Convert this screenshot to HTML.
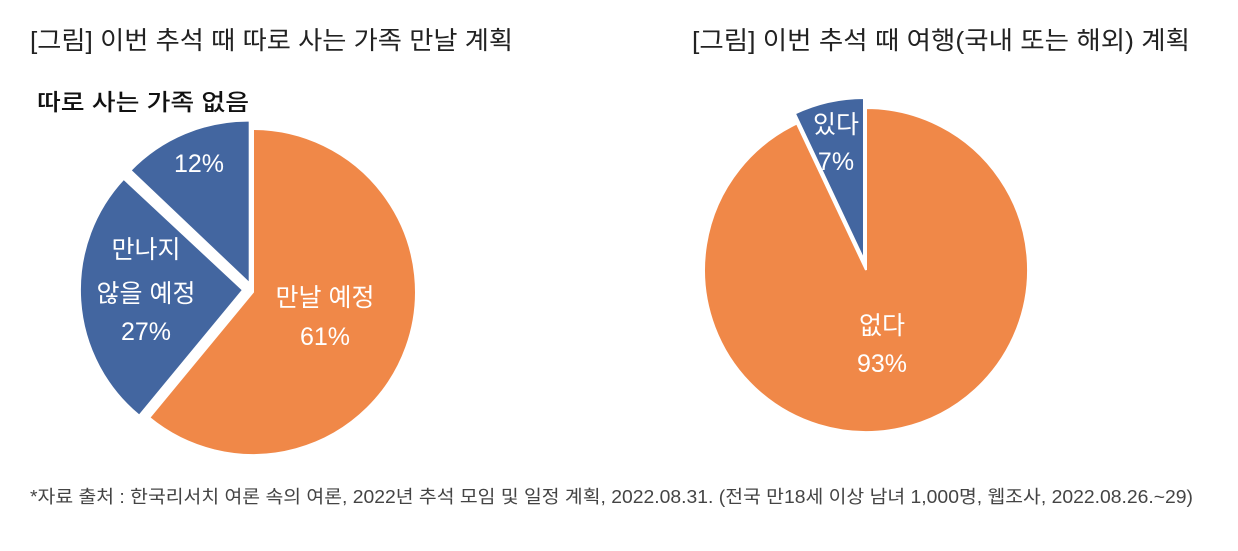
<!DOCTYPE html>
<html><head><meta charset="utf-8"><style>
body{margin:0;background:#fff;width:1238px;height:546px;overflow:hidden;font-family:"Liberation Sans","Noto Sans CJK KR",sans-serif;}
</style></head><body>
<svg width="1238" height="546" xmlns="http://www.w3.org/2000/svg" style="font-family:'Liberation Sans','Noto Sans CJK KR',sans-serif">
<text x="30" y="49" font-size="25" fill="#222" textLength="483" lengthAdjust="spacingAndGlyphs">[그림] 이번 추석 때 따로 사는 가족 만날 계획</text>
<text x="692" y="49" font-size="25" fill="#222" textLength="498" lengthAdjust="spacingAndGlyphs">[그림] 이번 추석 때 여행(국내 또는 해외) 계획</text>
<text x="37" y="110" font-size="23" fill="#111" font-weight="500" textLength="212" lengthAdjust="spacingAndGlyphs">따로 사는 가족 없음</text>
<path d="M253,292 L253,129 A163,163 0 1,1 149.2,417.7 Z" fill="#F08848" stroke="#fff" stroke-width="2"/>
<path d="M243,290 L139.2,415.7 A163,163 0 0,1 123.7,178.8 Z" fill="#4366A0" stroke="#fff" stroke-width="2"/>
<path d="M249.7,283.6 L130.4,170.4 A163,163 0 0,1 249.7,120.6 Z" fill="#4366A0" stroke="#fff" stroke-width="2"/>
<g fill="#fff" font-size="25" text-anchor="middle">
<text x="199" y="172">12%</text>
<text x="146" y="258">만나지</text>
<text x="146" y="302">않을 예정</text>
<text x="146" y="340">27%</text>
<text x="325" y="306">만날 예정</text>
<text x="325" y="345">61%</text>
</g>
<path d="M866,270 L866,108 A162,162 0 1,1 796.9,123.5 Z" fill="#F08848" stroke="#fff" stroke-width="2"/>
<path d="M864,260 L794.9,113.5 A162,162 0 0,1 864,98 Z" fill="#4366A0" stroke="#fff" stroke-width="2"/>
<g fill="#fff" font-size="25" text-anchor="middle">
<text x="836" y="133">있다</text>
<text x="836" y="170">7%</text>
<text x="882" y="334">없다</text>
<text x="882" y="372">93%</text>
</g>
<text x="30" y="503" font-size="18" fill="#444" textLength="1163" lengthAdjust="spacingAndGlyphs">*자료 출처 : 한국리서치 여론 속의 여론, 2022년 추석 모임 및 일정 계획, 2022.08.31. (전국 만18세 이상 남녀 1,000명, 웹조사, 2022.08.26.~29)</text>
</svg>
</body></html>
